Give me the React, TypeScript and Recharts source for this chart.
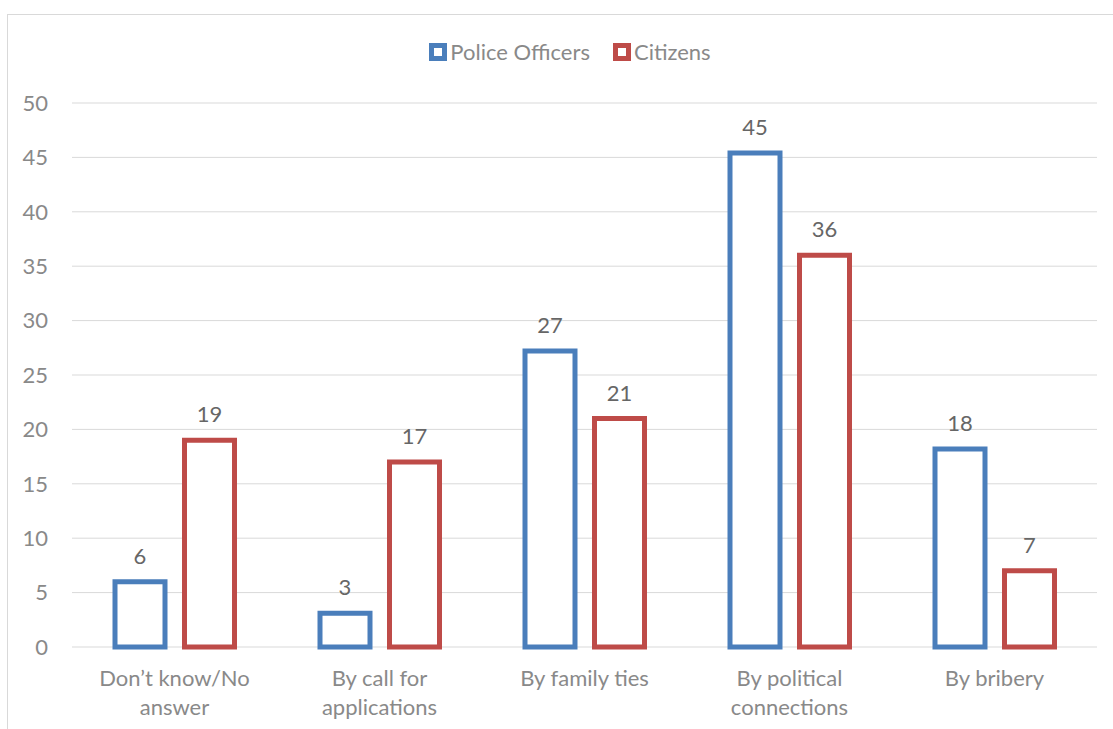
import { Bar, BarChart, CartesianGrid, LabelList, Legend, XAxis, YAxis } from "recharts";

const categories = [
  "Don’t know/No\nanswer",
  "By call for\napplications",
  "By family ties",
  "By political\nconnections",
  "By bribery",
];
const policeOfficers = [6, 3.1, 27.2, 45.4, 18.2];
const citizens = [19, 17, 21, 36, 7];
const yTicks = [0, 5, 10, 15, 20, 25, 30, 35, 40, 45, 50];

const BLUE = "#4A7EBB";
const RED = "#BE4B48";
const FONT = "Lato, 'Open Sans', sans-serif";

const data = categories.map((c, i) => ({
  name: c,
  police: policeOfficers[i],
  citizens: citizens[i],
}));

function CategoryTick({ x, y, payload }: any) {
  const lines = String(payload.value).split("\n");
  return (
    <text x={x} y={y + 31} textAnchor="middle" fill="#898989" fontSize={22} fontFamily={FONT}>
      {lines.map((l, i) => (
        <tspan key={i} x={x} dy={i === 0 ? 0 : 28.5}>
          {l}
        </tspan>
      ))}
    </text>
  );
}

function LegendBox() {
  const items = [
    { name: "Police Officers", color: BLUE },
    { name: "Citizens", color: RED },
  ];
  return (
    <div style={{ display: "flex", justifyContent: "center", gap: 23, fontFamily: FONT, fontSize: 22, color: "#898989" }}>
      {items.map((it) => (
        <div key={it.name} style={{ display: "flex", alignItems: "center", gap: 3 }}>
          <span style={{ width: 8, height: 8, border: `5px solid ${it.color}`, background: "#fff" }} />
          <span>{it.name}</span>
        </div>
      ))}
    </div>
  );
}

export default function App() {
  return (
    <div style={{ position: "absolute", left: 0, top: 0, width: 1113, height: 729, overflow: "hidden", background: "#fff" }}>
      <div
        style={{ position: "absolute", left: 7, top: 14, width: 1200, height: 800, border: "1px solid #d9d9d9", boxSizing: "border-box" }}
      />
      <div style={{ position: "absolute", left: 0, top: 0 }}>
        <BarChart width={1113} height={729} data={data} margin={{ top: 103, right: 16, bottom: 22, left: 0 }} barSize={50} barGap={19.5}>
          <CartesianGrid vertical={false} stroke="#d9d9d9" />
          <XAxis dataKey="name" axisLine={false} tickLine={false} height={60} tick={<CategoryTick />} interval={0} />
          <YAxis
            width={72}
            domain={[0, 50]}
            ticks={yTicks}
            axisLine={false}
            tickLine={false}
            tickMargin={18}
            tick={{ fill: "#898989", fontSize: 22, fontFamily: FONT }}
          />
          <Legend
            verticalAlign="middle"
            content={() => <LegendBox />}
            wrapperStyle={{ top: 38, left: 27, width: 1086 }}
          />
          <Bar dataKey="police" name="Police Officers" fill="#fff" stroke={BLUE} strokeWidth={5} isAnimationActive={false}>
            <LabelList
              dataKey="police"
              position="top"
              offset={18}
              formatter={(v: any) => Math.round(Number(v))}
              style={{ fill: "#666666", fontSize: 22, fontFamily: FONT }}
            />
          </Bar>
          <Bar dataKey="citizens" name="Citizens" fill="#fff" stroke={RED} strokeWidth={5} isAnimationActive={false}>
            <LabelList
              dataKey="citizens"
              position="top"
              offset={18}
              formatter={(v: any) => Math.round(Number(v))}
              style={{ fill: "#666666", fontSize: 22, fontFamily: FONT }}
            />
          </Bar>
        </BarChart>
      </div>
    </div>
  );
}
